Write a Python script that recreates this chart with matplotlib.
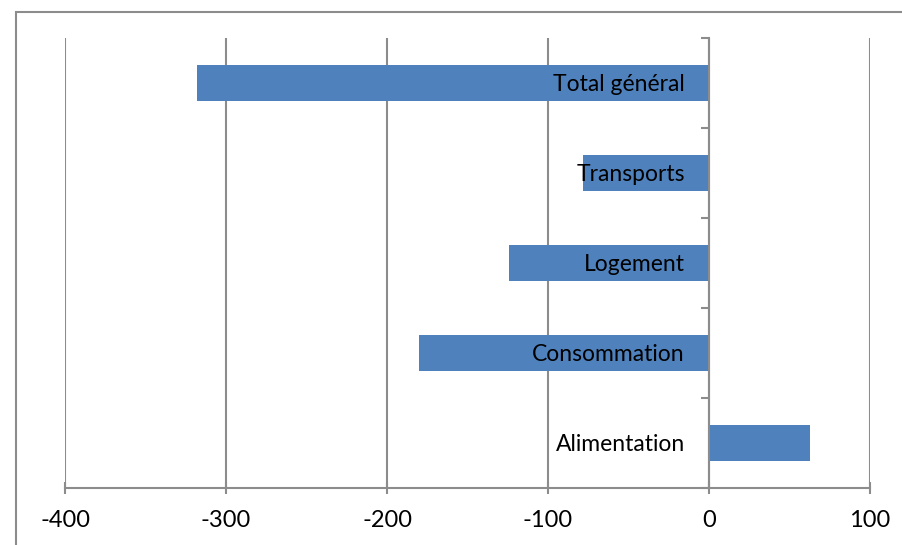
import numpy as np
import matplotlib.pyplot as plt
from matplotlib.patches import Rectangle

categories = ['Alimentation', 'Consommation', 'Logement', 'Transports', 'Total général']
values = [63, -180, -124, -78, -318]
xticks = [-400, -300, -200, -100, 0, 100]

W, H = 902, 545
fig = plt.figure(figsize=(W / 100, H / 100), dpi=100)
plt.rcParams['font.family'] = ['Lato', 'DejaVu Sans']

# cadre du graphique
fig.patches.append(Rectangle((16 / W, -0.1), 1.1, 1.1 - 12 / H,
                             transform=fig.transFigure, fill=False,
                             edgecolor='#8c8c8c', linewidth=1.5))

ax = fig.add_axes([65 / W, 1 - 488 / H, (870 - 65) / W, (488 - 38) / H])
grid_col = '#8c8c8c'

y = np.arange(len(categories))
ax.barh(y, values, height=0.4, color='#4F81BD', zorder=3)

ax.set_xlim(-400, 100)
ax.set_ylim(-0.5, len(categories) - 0.5)
ax.set_xticks(xticks)
ax.set_xticklabels([str(v) for v in xticks], fontsize=17)
for v in xticks:
    ax.axvline(v, color=grid_col, linewidth=1.5, zorder=1)

ax.set_yticks(np.arange(-0.5, len(categories), 1.0))
ax.set_yticklabels([])
ax.spines['left'].set_position(('data', 0))
for s in ['top', 'right']:
    ax.spines[s].set_visible(False)
for s in ['left', 'bottom']:
    ax.spines[s].set_color(grid_col)
    ax.spines[s].set_linewidth(1.5)
    ax.spines[s].set_zorder(4)
ax.tick_params(axis='y', length=6, width=1.5, color=grid_col, direction='out')
ax.tick_params(axis='x', length=8, width=1.5, color=grid_col, direction='inout', pad=12)

for yi, cat in zip(y, categories):
    ax.text(-15, yi - 0.02, cat, ha='right', va='center', fontsize=16.5, zorder=5)

fig.savefig('out.png', dpi=100)
